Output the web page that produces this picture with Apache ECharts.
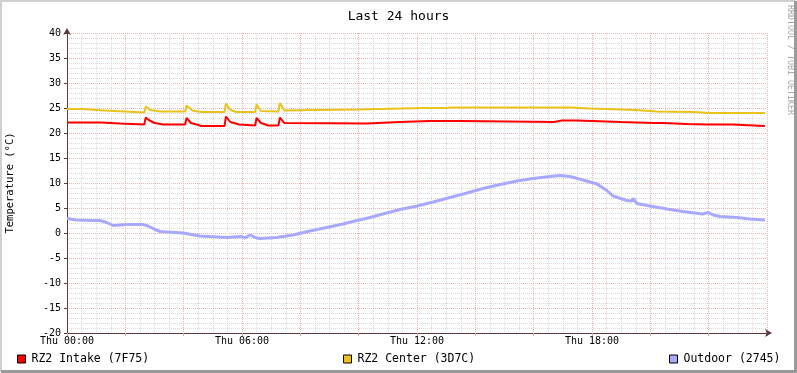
<!DOCTYPE html>
<html>
<head>
<meta charset="utf-8">
<script src="https://cdn.jsdelivr.net/npm/echarts@6/dist/echarts.min.js"></script>
<style>
  html, body { margin: 0; padding: 0; background: #fff; }
  #chart { width: 797px; height: 373px; }
</style>
</head>
<body>
<div id="chart"></div>
<script>
// hours since Thu 00:00 and temperatures in °C
const intakeHours = [0, 1.19, 1.2, 1.82, 1.83, 2.65, 2.7, 2.8, 3.0, 3.3, 4.05, 4.1, 4.25, 4.5, 4.6, 5.4, 5.45, 5.6, 5.9, 6.45, 6.5, 6.65, 6.9, 7.25, 7.3, 7.45, 10.3, 10.33, 11.4, 11.43, 12.45, 12.5, 12.55, 13.0, 13.06, 13.12, 13.47, 13.5, 16.7, 16.73, 16.98, 17.0, 17.05, 17.48, 17.5, 19.0, 19.02, 20.1, 20.15, 20.4, 20.42, 21.25, 21.27, 21.9, 21.95, 22.8, 22.82, 23.93];
const intakeTemps = [22.1, 22.1, 21.9, 21.9, 21.7, 21.7, 23.1, 22.6, 22.0, 21.7, 21.7, 23.0, 22.0, 21.6, 21.4, 21.4, 23.3, 22.2, 21.7, 21.5, 23.0, 22.0, 21.5, 21.5, 23.1, 22.0, 21.9, 22.2, 22.2, 22.4, 22.4, 22.6, 22.4, 22.4, 22.6, 22.4, 22.4, 22.2, 22.2, 22.5, 22.5, 22.2, 22.5, 22.5, 22.2, 22.2, 22.0, 22.0, 22.0, 22.0, 21.8, 21.8, 21.7, 21.7, 21.7, 21.7, 21.4, 21.4];

const centerHours = [0, 0.5, 0.55, 1.3, 1.35, 2.65, 2.7, 2.85, 3.2, 4.05, 4.1, 4.3, 4.6, 5.4, 5.45, 5.6, 5.8, 6.45, 6.5, 6.65, 7.25, 7.3, 7.45, 8.5, 10.0, 11.5, 12.2, 13.0, 13.03, 13.15, 15.5, 17.3, 17.9, 18.5, 19.5, 20.2, 21.5, 22.0, 23.93];
const centerTemps = [24.8, 24.8, 24.5, 24.5, 24.1, 24.1, 25.3, 24.6, 24.3, 24.3, 25.5, 24.5, 24.2, 24.2, 25.9, 24.6, 24.2, 24.2, 25.7, 24.4, 24.3, 26.0, 24.5, 24.6, 24.7, 24.9, 25.0, 25.0, 25.3, 25.1, 25.1, 25.1, 24.9, 24.8, 24.6, 24.3, 24.2, 24.0, 24.0];

const outdoorHours = [0, 0.33, 0.89, 1.13, 1.36, 1.58, 2.05, 2.6, 2.78, 2.95, 3.19, 3.98, 4.56, 5.48, 5.99, 6.1, 6.27, 6.5, 6.62, 7.19, 7.75, 8.33, 8.9, 9.46, 9.87, 10.39, 10.83, 11.42, 12.0, 12.55, 13.13, 13.71, 14.26, 14.85, 15.43, 15.98, 16.56, 16.9, 17.25, 17.69, 18.17, 18.51, 18.72, 19.2, 19.37, 19.41, 19.54, 19.99, 20.57, 21.12, 21.8, 21.98, 22.15, 22.39, 22.97, 23.41, 23.93];
const outdoorTemps = [2.9, 2.6, 2.5, 2.5, 2.1, 1.5, 1.7, 1.7, 1.4, 0.9, 0.3, 0.0, -0.6, -0.9, -0.7, -1.0, -0.4, -1.0, -1.1, -0.9, -0.4, 0.4, 1.1, 1.8, 2.4, 3.1, 3.8, 4.7, 5.4, 6.2, 7.1, 8.0, 8.9, 9.7, 10.4, 10.9, 11.3, 11.5, 11.3, 10.6, 9.8, 8.5, 7.4, 6.5, 6.4, 6.9, 5.9, 5.4, 4.8, 4.3, 3.8, 4.1, 3.6, 3.3, 3.1, 2.8, 2.6];

const seriesNames = ['RZ2 Intake (7F75)', 'RZ2 Center (3D7C)', 'Outdoor (2745)'];
const seriesColors = ['#ff0000', '#eac21c', '#a8a8ff'];
const hourLabels = ['Thu 00:00', 'Thu 06:00', 'Thu 12:00', 'Thu 18:00'];

const FONT = 'DejaVu Sans Mono';
const zip = (xs, ys) => xs.map((x, i) => [x, ys[i]]);

const chart = echarts.init(document.getElementById('chart'));

function legendFor(i, left) {
  return {
    left: left, top: 353, padding: 0,
    data: [seriesNames[i]],
    icon: 'rect', itemWidth: 8, itemHeight: 8, itemGap: 0,
    itemStyle: { borderColor: '#000', borderWidth: 1 },
    textStyle: { fontFamily: FONT, fontSize: 11.5, color: '#000', padding: [0, 0, 0, 1] },
    selectedMode: false
  };
}

chart.setOption({
  backgroundColor: '#fff',
  animation: false,
  title: {
    text: 'Last 24 hours', left: 'center', top: 5,
    textStyle: { fontFamily: FONT, fontSize: 13, fontWeight: 'normal', color: '#000' }
  },
  legend: [legendFor(0, 17), legendFor(1, 343), legendFor(2, 669)],
  grid: { left: 67, right: 30, top: 33, bottom: 40, containLabel: false, outerBoundsMode: 'none' },
  xAxis: {
    type: 'value', min: 0, max: 24, interval: 2,
    axisLine: { onZero: false, lineStyle: { color: '#5a3a3a', width: 1 }, symbol: ['none', 'arrow'], symbolSize: [6, 7], symbolOffset: [0, 5] },
    axisTick: { show: true, length: 3, inside: false, lineStyle: { color: '#e8a0a0' } },
    axisLabel: {
      fontFamily: FONT, fontSize: 10, color: '#000', margin: 3,
      formatter: v => (v % 6 === 0 && v < 24) ? hourLabels[v / 6] : ''
    },
    splitLine: { show: true, lineStyle: { color: '#e8b4b4', type: [1, 1] } },
    minorTick: { show: false, splitNumber: 4 },
    minorSplitLine: { show: true, lineStyle: { color: '#dadada', type: [1, 1] } }
  },
  yAxis: {
    type: 'value', min: -20, max: 40, interval: 5,
    name: 'Temperature (°C)', nameLocation: 'middle', nameGap: 51, nameRotate: 90,
    nameTextStyle: { fontFamily: FONT, fontSize: 10.5, color: '#000' },
    axisLine: { show: true, onZero: false, lineStyle: { color: '#5a3a3a', width: 1 }, symbol: ['none', 'arrow'], symbolSize: [6, 7], symbolOffset: [0, 5] },
    axisTick: { show: true, length: 3, lineStyle: { color: '#5a3a3a' } },
    axisLabel: { fontFamily: FONT, fontSize: 10, color: '#000', margin: 6 },
    splitLine: { show: true, lineStyle: { color: '#e8b4b4', type: [1, 1] } },
    minorTick: { show: false, splitNumber: 5 },
    minorSplitLine: { show: true, lineStyle: { color: '#dadada', type: [1, 1] } }
  },
  series: [
    { name: seriesNames[0], type: 'line', data: zip(intakeHours, intakeTemps), showSymbol: false, lineStyle: { width: 2, color: seriesColors[0] }, itemStyle: { color: seriesColors[0] } },
    { name: seriesNames[1], type: 'line', data: zip(centerHours, centerTemps), showSymbol: false, lineStyle: { width: 2, color: seriesColors[1] }, itemStyle: { color: seriesColors[1] } },
    { name: seriesNames[2], type: 'line', data: zip(outdoorHours, outdoorTemps), showSymbol: false, lineStyle: { width: 3, color: seriesColors[2] }, itemStyle: { color: seriesColors[2] } }
  ],
  graphic: [
    {
      type: 'text', x: 794, y: 5, rotation: -Math.PI / 2,
      style: { text: 'RRDTOOL / TOBI OETIKER', fontFamily: FONT, fontSize: 8.3, fill: '#a8a8a8', textVerticalAlign: 'top' }
    },
    { type: 'polyline', shape: { points: [[1, 372], [1, 1], [796, 1]] }, style: { stroke: '#d0d0d0', lineWidth: 2, fill: null } },
    { type: 'polyline', shape: { points: [[1, 371.5], [795.5, 371.5], [795.5, 1]] }, style: { stroke: '#9a9a9a', lineWidth: 3, fill: null } }
  ]
});
</script>
</body>
</html>
